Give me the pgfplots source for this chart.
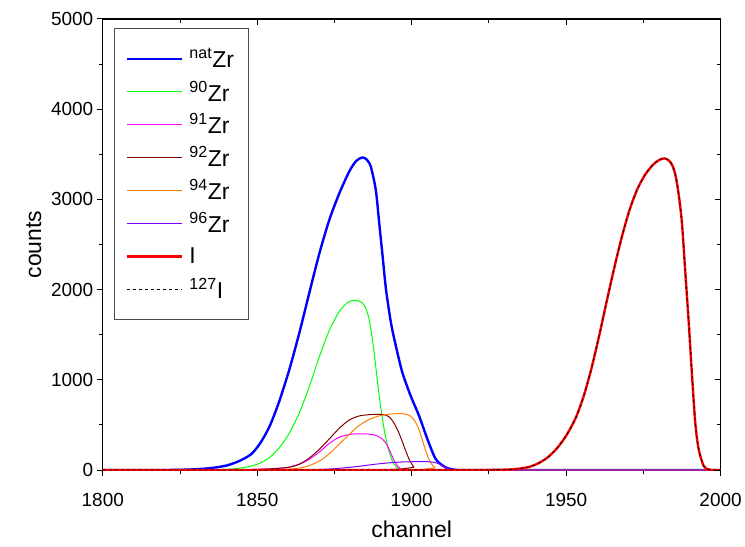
\documentclass[border=0pt]{standalone}
\usepackage{fontspec}
\setmainfont{Liberation Sans}
\usepackage{pgfplots}
\pgfplotsset{compat=1.18}
\definecolor{zrnat}{RGB}{0,0,255}
\definecolor{zr90}{RGB}{0,255,0}
\definecolor{zr91}{RGB}{255,0,255}
\definecolor{zr92}{RGB}{128,0,0}
\definecolor{zr94}{RGB}{255,128,0}
\definecolor{zr96}{RGB}{128,0,255}
\definecolor{iod}{RGB}{255,0,0}
\begin{document}
\begin{tikzpicture}
\pgfplotsset{
  myax/.style={
    scale only axis, width=619pt, height=452pt,
    xmin=1800, xmax=2000, ymin=0, ymax=5000,
    xtick={1800,1850,...,2000}, ytick={0,1000,...,5000},
    minor xtick={1825,1875,...,1975}, minor ytick={500,1500,...,4500},
    axis line style={line width=1.1pt},
    major tick length=6pt, minor tick length=4pt,
    every tick/.style={black, line width=1pt},
    /pgf/number format/assume math mode=true,
    /pgf/number format/1000 sep={},
    tick label style={font=\fontsize{19}{22}\selectfont},
  }
}
\begin{axis}[myax,
  tick align=outside, xtick pos=bottom, ytick pos=left,
  xticklabel style={yshift=-14pt},
  xlabel={channel}, ylabel={counts},
  label style={font=\fontsize{23}{26}\selectfont},
  xlabel style={yshift=-7pt},
  ylabel style={yshift=3pt},
  every axis plot/.append style={smooth, tension=0.45},
  legend cell align=left,
  legend style={at={(0.018,0.98)}, anchor=north west, draw=black!70, line width=0.6pt,
    inner xsep=12pt, inner ysep=14pt,
    nodes={font=\fontsize{23}{25}\selectfont, minimum height=33pt, inner sep=2pt},
    row sep=0pt, column sep=4pt},
  legend image code/.code={\draw[#1] (0pt,0pt) -- (55pt,0pt);},
]
\addplot[color=zrnat, line width=2.4pt] coordinates {
(1800,0) (1820,1) (1825,3) (1830,9) (1835,22) (1840,50) (1844,98) (1848,175)
(1851,300) (1854,485) (1857,750) (1860.4,1115) (1863.7,1530) (1866.9,1970)
(1870.1,2400) (1873.3,2770) (1876.6,3070) (1879.8,3310) (1882,3425) (1884,3465)
(1885.5,3440) (1886.8,3359) (1888.4,3101) (1889.5,2734) (1890.6,2365) (1891.7,1998)
(1893.3,1630) (1894.9,1372) (1897,1078) (1899.7,820) (1902.4,600) (1905.1,342)
(1907.8,121) (1911,30) (1914.3,3) (1920,0) (2000,0)};
\addlegendentry{\textsuperscript{nat}Zr}
\addplot[color=zr90, line width=1pt] coordinates {
(1800,0) (1830,2) (1840,8) (1844,20) (1847.5,40) (1850.7,75) (1854,140) (1857.2,250)
(1860.4,410) (1863.7,640) (1866.9,930) (1870.1,1255) (1873.3,1545) (1876.6,1760)
(1879.5,1862) (1881.6,1882) (1883.3,1868) (1884.7,1825) (1886.1,1690) (1887.4,1420)
(1888.7,1050) (1890,690) (1891.3,410) (1892.7,200) (1894.2,70) (1895.8,15)
(1897.5,0) (2000,0)};
\addlegendentry{\textsuperscript{90}Zr}
\addplot[color=zr91, line width=1pt] coordinates {
(1800,0) (1840,2) (1850,8) (1855,15) (1860,30) (1863.7,66) (1866.9,121) (1870.1,200)
(1873.3,295) (1876.6,365) (1879.8,395) (1883,402) (1886.5,398) (1888.8,380)
(1890.6,340) (1891.8,290) (1892.9,215) (1894.1,120) (1895.3,50) (1896.5,12)
(1897.5,0) (2000,0)};
\addlegendentry{\textsuperscript{91}Zr}
\addplot[color=zr92, line width=1pt] coordinates {
(1800,0) (1840,2) (1850,8) (1855,15) (1860,30) (1863.7,66) (1866.9,135) (1870.1,230)
(1873.3,345) (1876.6,465) (1879.8,555) (1883,600) (1886.5,615) (1889.5,618)
(1891.5,610) (1893,580) (1894.3,520) (1895.5,440) (1896.7,340) (1898,220)
(1899.3,110) (1900.7,35) (1902.4,0) (2000,0)};
\addlegendentry{\textsuperscript{92}Zr}
\addplot[color=zr94, line width=1pt] coordinates {
(1800,0) (1850,1) (1856,4) (1860,10) (1863.7,22) (1866.9,50) (1870.1,100) (1873.3,180)
(1876.6,290) (1879.8,395) (1883,495) (1886.5,565) (1890,605) (1893.5,622) (1897,625)
(1899,610) (1900.5,570) (1902,480) (1903.3,350) (1904.6,210) (1906,90) (1907.5,25)
(1909,0) (2000,0)};
\addlegendentry{\textsuperscript{94}Zr}
\addplot[color=zr96, line width=1pt] coordinates {
(1800,0) (1860,0) (1866,2) (1870,6) (1876,18) (1882,38) (1887,60) (1892,78) (1897,90)
(1902,93) (1905.5,92) (1907.5,84) (1909,65) (1910.5,35) (1912,12) (1913.5,2)
(1915,0) (2000,0)};
\addlegendentry{\textsuperscript{96}Zr}
\addplot[color=iod, line width=2.4pt] coordinates {
(1800,0) (1920,0) (1925,1) (1930,4) (1934,12) (1938,35) (1941,75) (1944,140)
(1947,240) (1950,380) (1953,570) (1955.5,800) (1958,1100) (1960.5,1460) (1963,1850)
(1965.5,2230) (1968,2580) (1970.5,2880) (1973,3110) (1975.5,3270) (1978,3380)
(1980,3435) (1981.8,3455) (1983.3,3430) (1984.5,3370) (1985.5,3250) (1986.5,3040)
(1987.5,2734) (1988.6,2182) (1989.7,1630) (1990.7,1078) (1991.8,526) (1992.9,232)
(1994.5,47) (1996,8) (1997.5,0) (2000,0)};
\addlegendentry{I}
\addplot[color=black, line width=0.8pt, dashed] coordinates {
(1800,0) (1920,0) (1925,1) (1930,4) (1934,12) (1938,35) (1941,75) (1944,140)
(1947,240) (1950,380) (1953,570) (1955.5,800) (1958,1100) (1960.5,1460) (1963,1850)
(1965.5,2230) (1968,2580) (1970.5,2880) (1973,3110) (1975.5,3270) (1978,3380)
(1980,3435) (1981.8,3455) (1983.3,3430) (1984.5,3370) (1985.5,3250) (1986.5,3040)
(1987.5,2734) (1988.6,2182) (1989.7,1630) (1990.7,1078) (1991.8,526) (1992.9,232)
(1994.5,47) (1996,8) (1997.5,0) (2000,0)};
\addlegendentry{\textsuperscript{127}I}
\end{axis}
\begin{axis}[myax, tick align=inside, xtick pos=top, ytick pos=right,
  xticklabels={}, yticklabels={}, axis line style={draw=none}]
\end{axis}
\path (-103pt,-77pt) rectangle (642pt,471pt);
\end{tikzpicture}
\end{document}
